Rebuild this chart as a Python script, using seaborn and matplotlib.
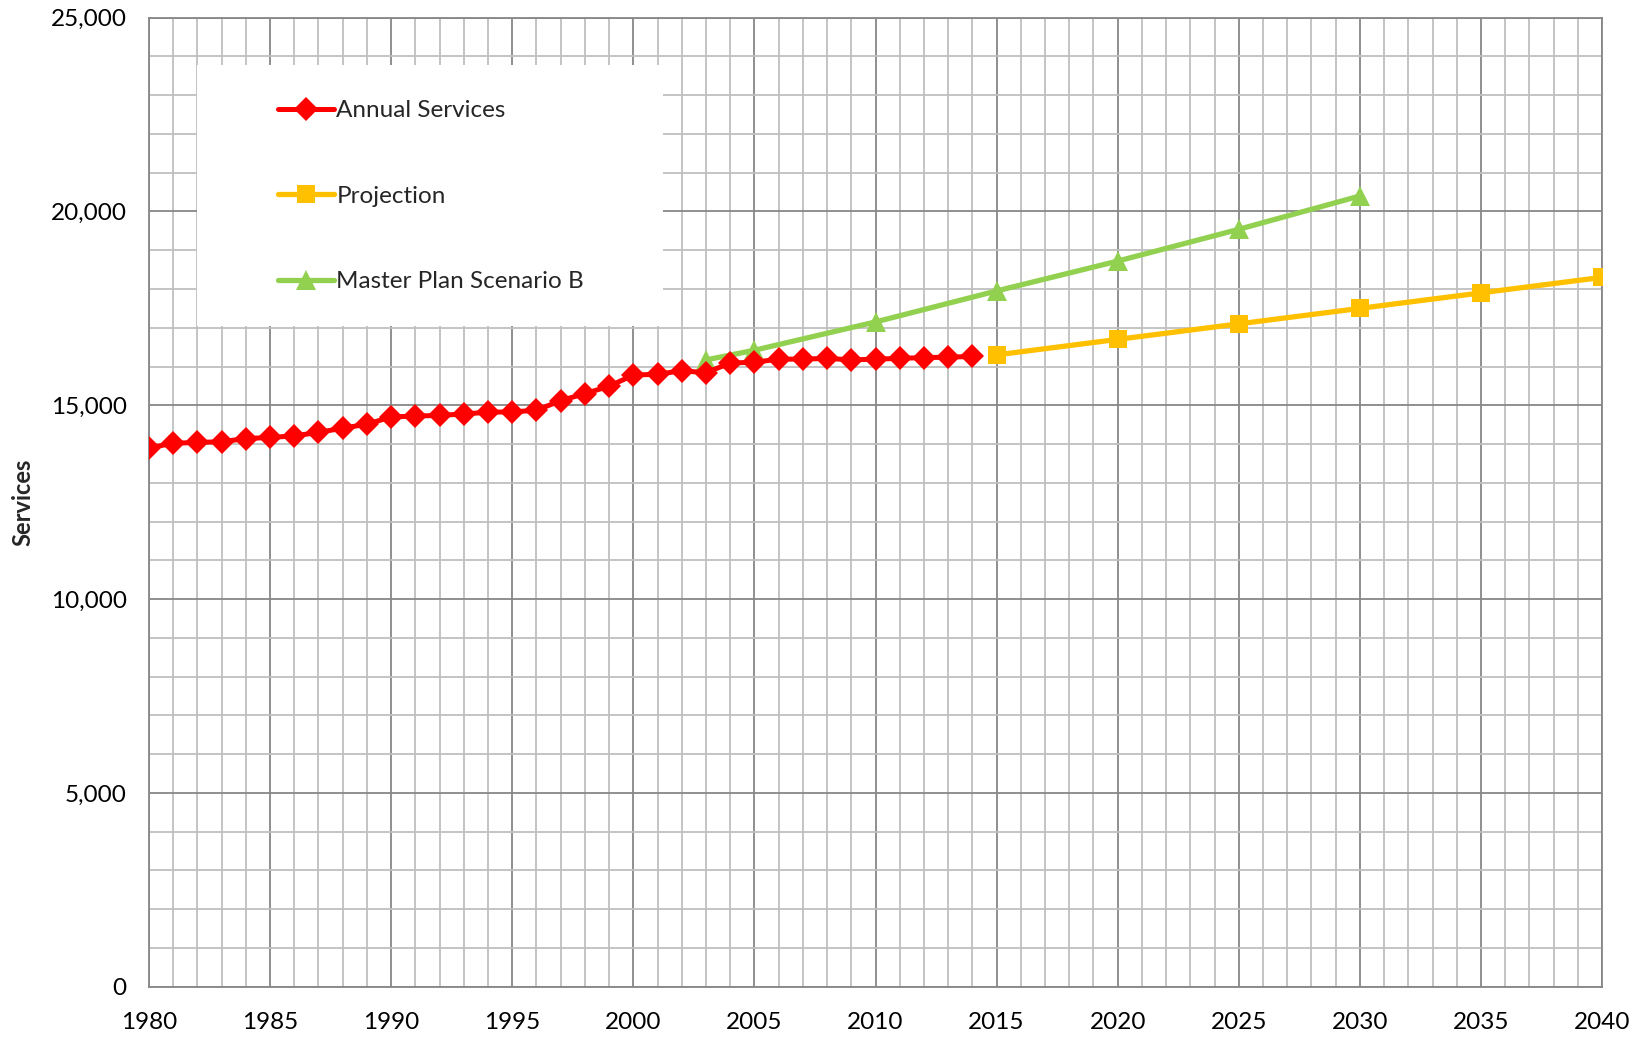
import matplotlib
matplotlib.use("Agg")
import matplotlib.pyplot as plt
import seaborn as sns
import pandas as pd
from matplotlib.ticker import MultipleLocator, FuncFormatter
from matplotlib.patches import Rectangle

# ---- data ----
annual_years = list(range(1980, 2015))
annual_values = [13900, 14020, 14040, 14060, 14140, 14170, 14210, 14300, 14410, 14510,
                 14700, 14720, 14740, 14775, 14820, 14830, 14870, 15120, 15300, 15490,
                 15780, 15800, 15890, 15840, 16090, 16110, 16190, 16190, 16210, 16170,
                 16190, 16210, 16230, 16240, 16260]
proj_years = [2015, 2020, 2025, 2030, 2035, 2040]
proj_values = [16300, 16700, 17100, 17500, 17900, 18300]
mp_years = [2003, 2005, 2010, 2015, 2020, 2025, 2030]
mp_values = [16170, 16420, 17150, 17950, 18720, 19540, 20400]

series_names = ["Annual Services", "Projection", "Master Plan Scenario B"]
x_ticks = list(range(1980, 2041, 5))
y_ticks = list(range(0, 25001, 5000))
y_label = "Services"

sns.set_style("white")
plt.rcParams["font.family"] = ["Lato", "DejaVu Sans"]

df = pd.concat([
    pd.DataFrame({"year": annual_years, "value": annual_values, "series": series_names[0]}),
    pd.DataFrame({"year": proj_years, "value": proj_values, "series": series_names[1]}),
    pd.DataFrame({"year": mp_years, "value": mp_values, "series": series_names[2]}),
])

fig = plt.figure(figsize=(16.44, 10.40), dpi=100)
ax = fig.add_axes([0.0906, 0.0513, 0.8839, 0.9317])

styles = {
    series_names[0]: dict(color="#FF0000", marker="D", markersize=12, linewidth=3.6),
    series_names[1]: dict(color="#FFC000", marker="s", markersize=13, linewidth=3.8),
    series_names[2]: dict(color="#92D050", marker="^", markersize=15, linewidth=3.8),
}
for name in [series_names[2], series_names[1], series_names[0]]:
    sub = df[df["series"] == name]
    st = styles[name]
    sns.lineplot(data=sub, x="year", y="value", ax=ax, color=st["color"],
                 marker=st["marker"], markersize=st["markersize"], linewidth=st["linewidth"],
                 markeredgewidth=0, label=name, zorder=3, legend=False)

ax.set_xlim(1980, 2040)
ax.set_ylim(0, 25000)
ax.set_xticks(x_ticks)
ax.set_yticks(y_ticks)
ax.xaxis.set_minor_locator(MultipleLocator(1))
ax.yaxis.set_minor_locator(MultipleLocator(1000))
ax.yaxis.set_major_formatter(FuncFormatter(lambda v, p: f"{int(v):,}"))

ax.set_axisbelow(True)
ax.grid(which="major", color="#878787", linewidth=1.3)
ax.grid(which="minor", color="#BFBFBF", linewidth=1.3)
for s in ax.spines.values():
    s.set_color("#878787")
    s.set_linewidth(1.3)

ax.tick_params(axis="both", which="major", labelsize=17.5, color="#878787", length=6,
               width=1.3, direction="out", pad=10, labelcolor="black")
ax.tick_params(axis="y", which="minor", color="#878787", length=6, width=1.3, direction="out")
ax.tick_params(axis="x", which="minor", color="#878787", length=6, width=1.3, direction="in")
ax.tick_params(axis="x", which="major", pad=12)

ax.set_xlabel("")
ax.set_ylabel(y_label, fontsize=17, fontweight="bold", labelpad=12)

# white legend background
ax.add_patch(Rectangle((0.033, 0.682), 0.321, 0.269, transform=ax.transAxes,
                       facecolor="white", edgecolor="none", zorder=1))

handles, labels = ax.get_legend_handles_labels()
order = [labels.index(n) for n in series_names]
leg = ax.legend([handles[i] for i in order], [labels[i] for i in order],
                loc="upper left", bbox_to_anchor=(0.0888, 0.915), frameon=False,
                fontsize=17.5, handlelength=2.3, handletextpad=0.1, labelspacing=2.66,
                borderpad=0, borderaxespad=0)

fig.savefig("out.png", dpi=100)
